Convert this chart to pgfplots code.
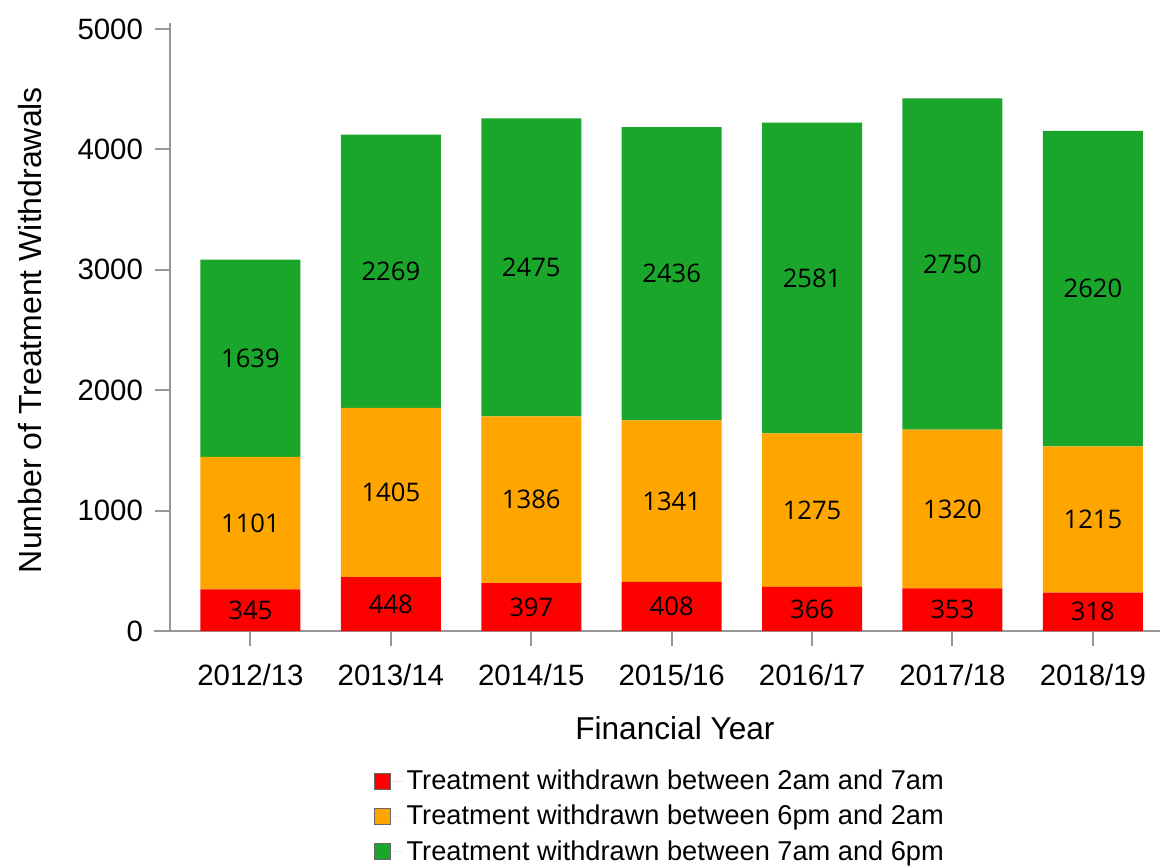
\documentclass[border=0pt]{standalone}
\usepackage{fontspec}
\setmainfont{Liberation Sans}
\newfontfamily\labfont{Open Sans}
\usepackage{pgfplots}
\usepackage{pgfplotstable}
\pgfplotsset{compat=1.18}
\definecolor{axgray}{RGB}{150,150,150}
\definecolor{cred}{RGB}{255,0,0}
\definecolor{corange}{RGB}{255,165,0}
\definecolor{cgreen}{RGB}{25,166,42}

\pgfplotstableread{
x red orange green
0 345 1101 1639
1 448 1405 2269
2 397 1386 2475
3 408 1341 2436
4 366 1275 2581
5 353 1320 2750
6 318 1215 2620
}\datatable

\pgfplotstableread{
x redmid redval ormid orval grmid grval
0 172.5 345 895.5 1101 2265.5 1639
1 224 448 1150.5 1405 2987.5 2269
2 198.5 397 1090 1386 3020.5 2475
3 204 408 1078.5 1341 2967 2436
4 183 366 1003.5 1275 2931.5 2581
5 176.5 353 1013 1320 3048 2750
6 159 318 925.5 1215 2843 2620
}\labtable

\pgfplotsset{
  common/.style={
    scale only axis,
    width=495pt, height=304pt,
    xmin=-0.573, xmax=6.478,
    ymin=0, ymax=5050,
    enlargelimits=false,
    at={(0,0)}, anchor=south west,
  }
}

\begin{document}
\begin{tikzpicture}
\begin{axis}[
  common,
  ybar stacked,
  bar width=50pt,
  axis lines*=left,
  axis line style={axgray, line width=1pt, -},
  x axis line style={shorten <=-8pt},
  tick align=outside,
  major tick length=7.5pt,
  tick style={axgray, line width=1pt},
  xtick={0,...,6},
  xticklabels={2012/13,2013/14,2014/15,2015/16,2016/17,2017/18,2018/19},
  ytick={0,1000,2000,3000,4000,5000},
  /pgf/number format/assume math mode=true,
  /pgf/number format/1000 sep={},
  tick label style={font=\fontsize{14.7}{17}\selectfont, black},
  xticklabel style={yshift=-5.5pt},
  yticklabel style={xshift=-2.5pt},
  every axis y label/.style={at={(axis description cs:0,0.495)}, xshift=-70pt, rotate=90, anchor=center, font=\fontsize{16}{18}\selectfont},
  every axis x label/.style={at={(axis description cs:0.51,0)}, yshift=-48.5pt, anchor=center, font=\fontsize{15.8}{18}\selectfont},
  xlabel={Financial Year},
  ylabel={Number of Treatment Withdrawals},
  legend style={at={(0.496,-0.215)}, anchor=north, draw=none, fill=none,
    font=\fontsize{13.6}{16}\selectfont, cells={anchor=west}, row sep=2.2pt},
  legend image code/.code={\draw[#1, draw=black!60, line width=0.4pt] (0pt,-4pt) rectangle (8pt,4pt);
    \path (0pt,0pt) -- (14pt,0pt);},
]
\addplot[fill=cred, draw=none] table[x=x, y=red] {\datatable};
\addplot[fill=corange, draw=none] table[x=x, y=orange] {\datatable};
\addplot[fill=cgreen, draw=none] table[x=x, y=green] {\datatable};
\legend{Treatment withdrawn between 2am and 7am, Treatment withdrawn between 6pm and 2am, Treatment withdrawn between 7am and 6pm}
\end{axis}
\begin{axis}[
  common,
  axis lines=none,
  nodes near coords,
  point meta=explicit symbolic,
  nodes near coords style={anchor=center, font=\labfont\fontsize{12.8}{14}\selectfont, black},
]
\addplot[only marks, mark=none] table[x=x, y=redmid, meta=redval] {\labtable};
\addplot[only marks, mark=none] table[x=x, y=ormid, meta=orval] {\labtable};
\addplot[only marks, mark=none] table[x=x, y=grmid, meta=grval] {\labtable};
\end{axis}
\pgfresetboundingbox
\path (-85pt,-118pt) rectangle (496.5pt,315.5pt);
\end{tikzpicture}
\end{document}
